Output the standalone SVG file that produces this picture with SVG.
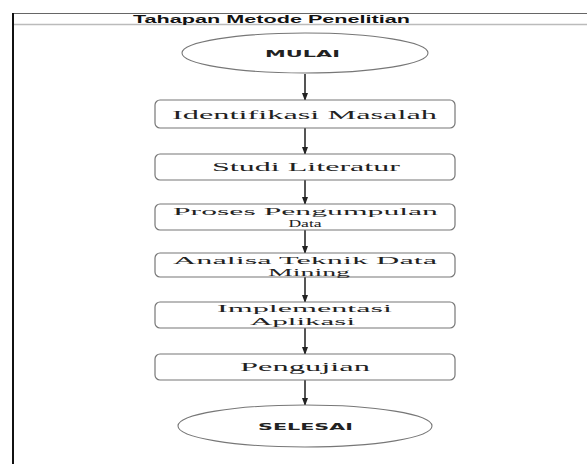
<svg xmlns="http://www.w3.org/2000/svg" width="587" height="464" viewBox="0 0 587 464">
<style>
.box{fill:#fff;stroke:#777;stroke-width:1.2}
.ell{fill:#fff;stroke:#777;stroke-width:1.1}
.t{font-family:"Liberation Serif","Times New Roman",serif;fill:#222}
.b{font-family:"DejaVu Sans","Liberation Sans",sans-serif;font-weight:bold;fill:#222;font-size:8.5px}
.conn{stroke:#555;stroke-width:2;fill:none;marker-end:url(#ah)}
</style>
<defs>
<marker id="ah" markerWidth="8" markerHeight="6" refX="7" refY="3" orient="auto" markerUnits="userSpaceOnUse">
<path d="M0,0 L8,3 L0,6 Z" fill="#222"/>
</marker>
</defs>
<rect width="587" height="464" fill="#fff"/>
<g id="frame">
<line x1="13" y1="13.5" x2="587" y2="13.5" stroke="#666" stroke-width="1.2"/>
<line x1="13" y1="24.5" x2="587" y2="24.5" stroke="#bbb" stroke-width="1.5"/>
<line x1="13" y1="13" x2="13" y2="464" stroke="#111" stroke-width="2"/>
<text x="133" y="22.5" font-family="'Liberation Sans',Arial,sans-serif" font-weight="bold" font-size="10" fill="#111" textLength="277" lengthAdjust="spacingAndGlyphs">Tahapan Metode Penelitian</text>
</g>
<g id="connectors">
<line class="conn" x1="305" y1="74" x2="305" y2="100"/>
<line class="conn" x1="305" y1="128" x2="305" y2="154"/>
<line class="conn" x1="305" y1="180" x2="305" y2="204"/>
<line class="conn" x1="305" y1="230" x2="305" y2="253"/>
<line class="conn" x1="305" y1="277" x2="305" y2="302"/>
<line class="conn" x1="305" y1="328" x2="305" y2="354"/>
<line class="conn" x1="305" y1="380" x2="305" y2="405"/>
</g>
<g id="mulai">
<ellipse class="ell" cx="305" cy="53" rx="123" ry="20"/>
<text class="b" x="265" y="57" textLength="75" lengthAdjust="spacingAndGlyphs">MULAI</text>
</g>
<g id="identifikasi">
<rect class="box" x="155" y="100" width="300" height="28" rx="5"/>
<text class="t" x="172" y="119" font-size="13" textLength="265" lengthAdjust="spacingAndGlyphs">Identifikasi Masalah</text>
</g>
<g id="studi">
<rect class="box" x="155" y="154" width="300" height="26" rx="5"/>
<text class="t" x="212" y="171" font-size="13" textLength="188" lengthAdjust="spacingAndGlyphs">Studi Literatur</text>
</g>
<g id="proses">
<rect class="box" x="155" y="204" width="300" height="26" rx="5"/>
<text class="t" x="173" y="214.5" font-size="11" textLength="265" lengthAdjust="spacingAndGlyphs">Proses Pengumpulan</text>
<text class="t" transform="translate(305 227) scale(1.6 1)" font-size="11" text-anchor="middle">Data</text>
</g>
<g id="analisa">
<rect class="box" x="155" y="253" width="300" height="24" rx="5"/>
<text class="t" x="173" y="264" font-size="11" textLength="264" lengthAdjust="spacingAndGlyphs">Analisa Teknik Data</text>
<text class="t" x="268" y="275.5" font-size="11" textLength="82" lengthAdjust="spacingAndGlyphs">Mining</text>
</g>
<g id="implementasi">
<rect class="box" x="155" y="302" width="300" height="26" rx="5"/>
<text class="t" x="217" y="312" font-size="11" textLength="175" lengthAdjust="spacingAndGlyphs">Implementasi</text>
<text class="t" x="250" y="325" font-size="11" textLength="105" lengthAdjust="spacingAndGlyphs">Aplikasi</text>
</g>
<g id="pengujian">
<rect class="box" x="155" y="354" width="300" height="26" rx="5"/>
<text class="t" x="240" y="371" font-size="13" textLength="130" lengthAdjust="spacingAndGlyphs">Pengujian</text>
</g>
<g id="selesai">
<ellipse class="ell" cx="305" cy="426" rx="127" ry="21"/>
<text class="b" x="258" y="429.5" textLength="95" lengthAdjust="spacingAndGlyphs">SELESAI</text>
</g>
</svg>
